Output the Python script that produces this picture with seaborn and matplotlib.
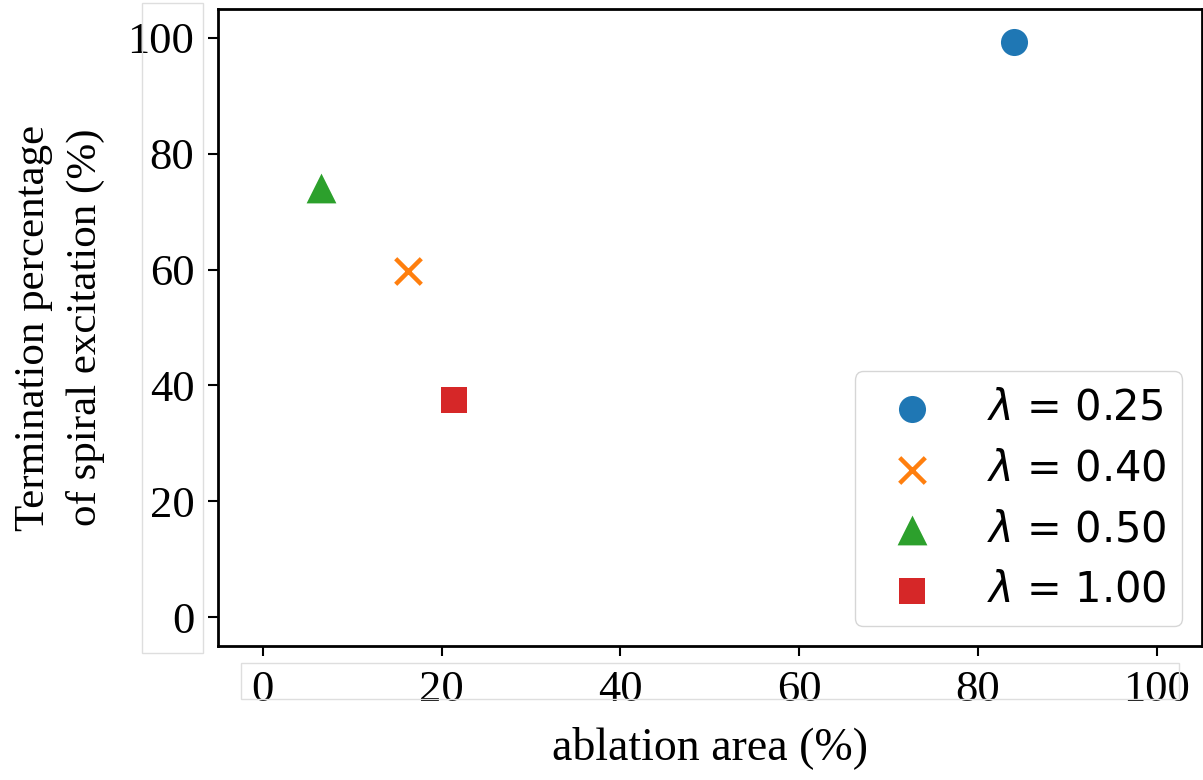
import matplotlib
matplotlib.use("Agg")
import matplotlib.pyplot as plt
from matplotlib.patches import Rectangle
import seaborn as sns

# Series values
lambda_labels = ["0.25", "0.40", "0.50", "1.00"]
ablation_area = [84.0, 16.3, 6.5, 21.4]
termination_pct = [99.3, 59.7, 74.1, 37.4]
series_markers = ["o", "x", "^", "s"]
series_colors = ["#1f77b4", "#ff7f0e", "#2ca02c", "#d62728"]
marker_areas = [380, 340, 460, 330]

x_ticks = [0, 20, 40, 60, 80, 100]
y_ticks = [0, 20, 40, 60, 80, 100]

sns.set_style("ticks", {"text.color": "black", "axes.labelcolor": "black",
                        "xtick.color": "black", "ytick.color": "black",
                        "axes.edgecolor": "black"})
plt.rcParams["font.family"] = ["Liberation Serif", "DejaVu Serif"]
plt.rcParams["mathtext.fontset"] = "dejavusans"

fig = plt.figure(figsize=(12.03, 7.8), dpi=100)
ax = fig.add_axes([0.1812, 0.1718, 0.8177, 0.8167])

for lab, xv, yv, m, c, area in zip(lambda_labels, ablation_area, termination_pct,
                                    series_markers, series_colors, marker_areas):
    kw = dict(x=[xv], y=[yv], marker=m, color=c, s=area, ax=ax,
              label=r"$\lambda$ = " + lab)
    if m == "x":
        kw.update(linewidth=3.2)
    else:
        kw.update(edgecolor=c, linewidth=0)
    sns.scatterplot(**kw)

ax.set_xlim(-5, 105)
ax.set_ylim(-5, 105)
ax.set_xticks(x_ticks)
ax.set_yticks(y_ticks)
ax.tick_params(axis="both", labelsize=32, length=7, width=1.5, pad=10,
               color="black", labelcolor="black")
for sp in ax.spines.values():
    sp.set_linewidth(2)
    sp.set_color("black")
    sp.set_visible(True)

ax.set_xlabel("ablation area (%)", fontsize=33, labelpad=12)
ax.set_ylabel("Termination percentage\nof spiral excitation (%)", fontsize=31,
              labelpad=16, linespacing=1.45)

leg = ax.legend(loc="lower right", prop={"family": "DejaVu Sans", "size": 30},
                handletextpad=0.8, labelspacing=0.45, borderpad=0.37,
                borderaxespad=0.47, framealpha=0.8, edgecolor="#cccccc",
                fancybox=True)

# light frames around the tick-label strips
fig.patches.append(Rectangle((142 / 1203, 1 - 653 / 780), 61 / 1203, 650 / 780,
                             transform=fig.transFigure, fill=False,
                             edgecolor="#dedede", linewidth=1))
fig.patches.append(Rectangle((241 / 1203, 1 - 699 / 780), 938 / 1203, 36 / 780,
                             transform=fig.transFigure, fill=False,
                             edgecolor="#dedede", linewidth=1))

fig.savefig("out.png", dpi=100, facecolor="white")
